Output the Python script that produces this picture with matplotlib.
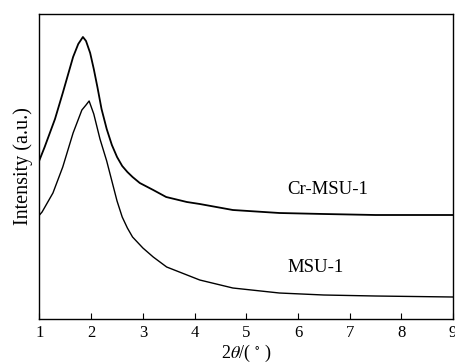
import matplotlib
matplotlib.use('Agg')
import matplotlib.pyplot as plt

plt.rcParams['font.family'] = ['Liberation Serif', 'DejaVu Serif']
plt.rcParams['mathtext.fontset'] = 'stix'

# Datos (intensidad en unidades arbitrarias)
x_cr = [1.0, 1.1, 1.2, 1.3, 1.45, 1.55, 1.65, 1.75, 1.84, 1.9, 1.98, 2.05,
        2.12, 2.2, 2.3, 2.4, 2.5, 2.6, 2.7, 2.8, 2.94, 3.2, 3.45, 3.85, 4.1,
        4.74, 5.64, 6.5, 7.5, 9.0]
y_cr = [159, 172, 186, 200, 226, 244, 262, 275, 282, 278, 266, 250,
        232, 210, 190, 174, 162, 153, 147, 142, 136, 129, 122, 117, 115,
        109, 106, 105, 104, 104]

x_msu = [1.0, 1.05, 1.26, 1.45, 1.65, 1.82, 1.9, 1.96, 2.05, 2.17, 2.3, 2.4,
         2.5, 2.6, 2.7, 2.8, 3.0, 3.2, 3.46, 4.1, 4.74, 5.64, 6.5, 7.5, 9.0]
y_msu = [104, 107, 126, 152, 186, 209, 214, 218, 205, 180, 158, 138,
         118, 102, 91, 82, 71, 62, 52, 39, 31, 26, 24, 23, 22]

etiquetas = ['Cr-MSU-1', 'MSU-1']
pos_etiquetas = [(5.8, 129), (5.8, 52)]

fig = plt.figure(figsize=(4.56, 3.64), dpi=100)
ax = fig.add_axes([0.0866, 0.1236, 0.907, 0.838])

ax.plot(x_cr, y_cr, color='black', lw=1.3)
ax.plot(x_msu, y_msu, color='black', lw=1.0)

for texto, (px, py) in zip(etiquetas, pos_etiquetas):
    ax.text(px, py, texto, fontsize=13.5, va='center', ha='left')

ax.set_xlim(1, 9)
ax.set_ylim(0, 305)
ax.set_xticks(range(1, 10))
ax.set_yticks([])
ax.tick_params(axis='x', direction='in', length=4, labelsize=12, pad=4)
for s in ax.spines.values():
    s.set_linewidth(1.0)

ax.set_xlabel(r'2$\theta$/( $^{\circ}$ )', fontsize=13, labelpad=2)
ax.set_ylabel('Intensity (a.u.)', fontsize=14.5, labelpad=5)

fig.savefig('out.png', dpi=100)
